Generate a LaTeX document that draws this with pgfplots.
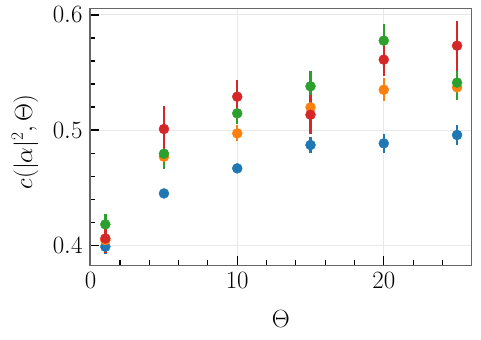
\documentclass[border=0pt]{standalone}
\usepackage{pgfplots}
\usepackage{pgfplotstable}
\pgfplotsset{compat=1.18}
\definecolor{tabblue}{HTML}{1F77B4}
\definecolor{taborange}{HTML}{FF7F0E}
\definecolor{tabgreen}{HTML}{2CA02C}
\definecolor{tabred}{HTML}{D62728}
\pgfplotstableread{
x y e
1 0.3986 0.006
5 0.4449 0.003
10 0.4667 0.003
15 0.4870 0.0067
20 0.4884 0.008
25 0.4957 0.009
}\blue
\pgfplotstableread{
x y e
1 0.4043 0.006
5 0.4768 0.007
10 0.4971 0.007
15 0.5197 0.010
20 0.5350 0.0098
25 0.5371 0.010
}\orange
\pgfplotstableread{
x y e
1 0.4180 0.0087
5 0.4794 0.0136
10 0.5145 0.009
15 0.5380 0.0135
20 0.5777 0.0145
25 0.5412 0.0150
}\green
\pgfplotstableread{
x y e
1 0.4058 0.013
5 0.5009 0.020
10 0.5290 0.0145
15 0.5133 0.017
20 0.5612 0.0145
25 0.5733 0.0217
}\red
\pgfplotsset{
  ebar/.style={only marks, mark=none, forget plot,
    error bars/y dir=both, error bars/y explicit, error bars/error mark=none,
    error bars/error bar style={draw=#1, line width=2.5pt}},
  dots/.style={only marks, mark=*, mark size=5pt, color=#1,
    mark options={fill=#1, draw=none}},
}
\begin{document}
\begin{tikzpicture}
\begin{axis}[
  scale only axis,
  width=382pt, height=257pt,
  xmin=-0.05, xmax=26,
  ymin=0.3826, ymax=0.6058,
  xtick={0,10,20},
  ytick={0.4,0.5,0.6},
  minor xtick={2,4,6,8,12,14,16,18,22,24},
  minor ytick={0.42,0.44,0.46,0.48,0.52,0.54,0.56,0.58},
  tick pos=left,
  tick align=inside,
  major tick length=9pt,
  minor tick length=5pt,
  major tick style={black, line width=1.1pt},
  minor tick style={black, line width=1.1pt},
  axis line style={draw=black!60, line width=1.2pt},
  xmajorgrids, ymajorgrids,
  major grid style={draw=black!9, line width=1pt},
  yticklabel style={/pgf/number format/fixed, /pgf/number format/precision=1, /pgf/number format/fixed zerofill, xshift=-4pt},
  xticklabel style={yshift=-4pt},
  tick label style={font=\fontsize{24}{28}\selectfont},
  label style={font=\fontsize{24}{28}\selectfont},
  xlabel={$\Theta$},
  ylabel={$c(|\alpha|^2,\Theta)$},
  xlabel style={at={(axis description cs:0.5,-0.21)}, anchor=center},
  ylabel style={at={(axis description cs:-0.17,0.48)}, anchor=center, rotate=0},
]
\coordinate (sw) at (rel axis cs:0,0);
\coordinate (ne) at (rel axis cs:1,1);
\addplot[ebar=tabblue] table[x=x, y=y, y error=e] {\blue};
\addplot[ebar=taborange] table[x=x, y=y, y error=e] {\orange};
\addplot[ebar=tabgreen] table[x=x, y=y, y error=e] {\green};
\addplot[ebar=tabred] table[x=x, y=y, y error=e] {\red};
\addplot[dots=tabblue] table[x=x, y=y] {\blue};
\addplot[dots=taborange] table[x=x, y=y] {\orange};
\addplot[dots=tabgreen] table[x=x, y=y] {\green};
\addplot[dots=tabred] table[x=x, y=y] {\red};
\end{axis}
\pgfresetboundingbox
\path[use as bounding box] ([xshift=-90pt,yshift=-74pt]sw) rectangle ([xshift=9.3pt,yshift=8.3pt]ne);
\end{tikzpicture}
\end{document}
